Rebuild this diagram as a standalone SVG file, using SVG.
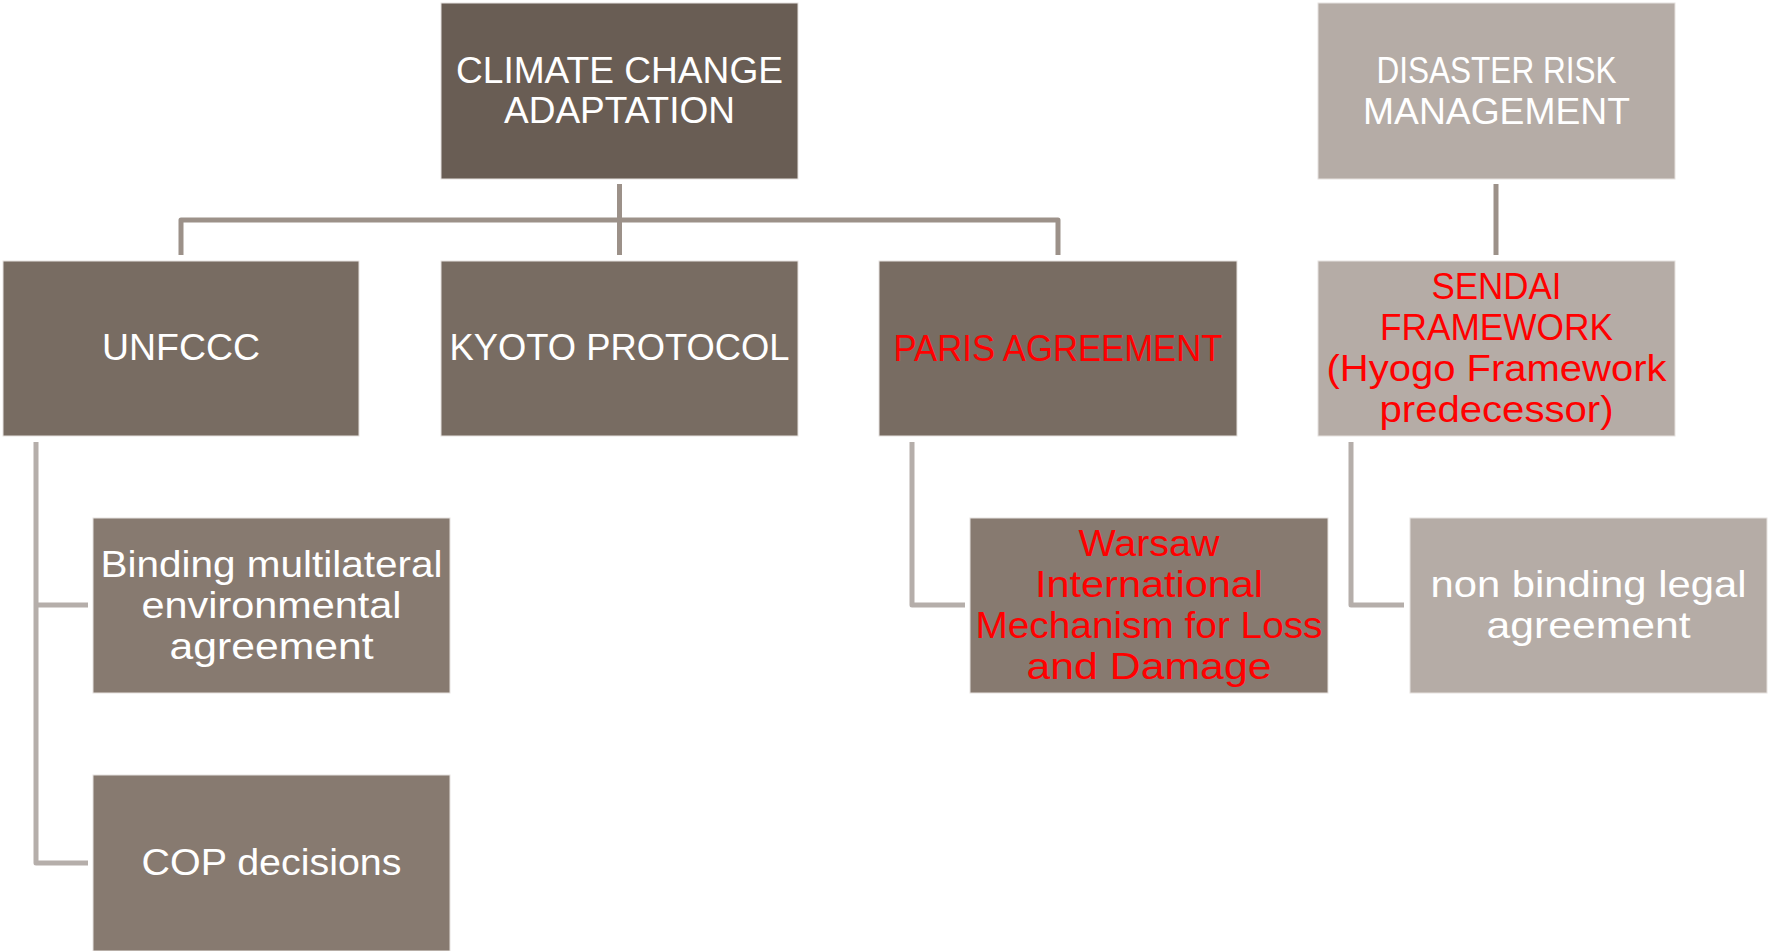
<svg xmlns="http://www.w3.org/2000/svg" width="1768" height="951" viewBox="0 0 1768 951">
<style>
.box{stroke:#e6e2df;stroke-width:1}
.c1{fill:#695d54}
.c2{fill:#786c62}
.c3{fill:#877a70}
.c4{fill:#b5aca6}
text{font-family:"Liberation Sans",Arial,sans-serif;font-size:37px;text-anchor:middle;fill:#ffffff}
text.red{fill:#ff0000}
.conn{fill:none;stroke:#9c9189;stroke-width:5;stroke-linejoin:round}
.conn2{fill:none;stroke:#b5aeaa;stroke-width:5;stroke-linejoin:round}
</style>
<rect width="1768" height="951" fill="#ffffff"/>
<g id="connectors">
<path class="conn" d="M619.5,184V255"/>
<path class="conn" d="M181,255V220H1058V255"/>
<path class="conn" d="M1496,184V255"/>
<path class="conn2" d="M36,442V863H88M36,605H88"/>
<path class="conn2" d="M912,442V605H965"/>
<path class="conn2" d="M1351,442V605H1404"/>
</g>
<g id="cca">
<rect class="box c1" x="441" y="3" width="357" height="176"/>
<text x="619.5" y="83" textLength="327" lengthAdjust="spacingAndGlyphs">CLIMATE CHANGE</text>
<text x="619.5" y="123" textLength="231" lengthAdjust="spacingAndGlyphs">ADAPTATION</text>
</g>
<g id="drm">
<rect class="box c4" x="1318" y="3" width="357" height="176"/>
<text x="1496.5" y="83" textLength="240" lengthAdjust="spacingAndGlyphs">DISASTER RISK</text>
<text x="1496.5" y="124" textLength="267" lengthAdjust="spacingAndGlyphs">MANAGEMENT</text>
</g>
<g id="unfccc">
<rect class="box c2" x="3" y="261" width="356" height="175"/>
<text x="181" y="360" textLength="158" lengthAdjust="spacingAndGlyphs">UNFCCC</text>
</g>
<g id="kyoto">
<rect class="box c2" x="441" y="261" width="357" height="175"/>
<text x="619.5" y="360" textLength="340" lengthAdjust="spacingAndGlyphs">KYOTO PROTOCOL</text>
</g>
<g id="paris">
<rect class="box c2" x="879" y="261" width="358" height="175"/>
<text class="red" x="1058" y="361" textLength="329" lengthAdjust="spacingAndGlyphs">PARIS AGREEMENT</text>
</g>
<g id="sendai">
<rect class="box c4" x="1318" y="261" width="357" height="175"/>
<text class="red" x="1496.5" y="299" textLength="130" lengthAdjust="spacingAndGlyphs">SENDAI</text>
<text class="red" x="1496.5" y="340" textLength="233" lengthAdjust="spacingAndGlyphs">FRAMEWORK</text>
<text class="red" x="1496.5" y="381" textLength="340" lengthAdjust="spacingAndGlyphs">(Hyogo Framework</text>
<text class="red" x="1496.5" y="422" textLength="234" lengthAdjust="spacingAndGlyphs">predecessor)</text>
</g>
<g id="binding">
<rect class="box c3" x="93" y="518" width="357" height="175"/>
<text x="271.5" y="577" textLength="342" lengthAdjust="spacingAndGlyphs">Binding multilateral</text>
<text x="271.5" y="618" textLength="260" lengthAdjust="spacingAndGlyphs">environmental</text>
<text x="271.5" y="659" textLength="204" lengthAdjust="spacingAndGlyphs">agreement</text>
</g>
<g id="cop">
<rect class="box c3" x="93" y="775" width="357" height="176"/>
<text x="271.5" y="875" textLength="260" lengthAdjust="spacingAndGlyphs">COP decisions</text>
</g>
<g id="warsaw">
<rect class="box c3" x="970" y="518" width="358" height="175"/>
<text class="red" x="1149" y="556" textLength="141" lengthAdjust="spacingAndGlyphs">Warsaw</text>
<text class="red" x="1149" y="597" textLength="228" lengthAdjust="spacingAndGlyphs">International</text>
<text class="red" x="1149" y="638" textLength="347" lengthAdjust="spacingAndGlyphs">Mechanism for Loss</text>
<text class="red" x="1149" y="679" textLength="245" lengthAdjust="spacingAndGlyphs">and Damage</text>
</g>
<g id="nonbinding">
<rect class="box c4" x="1410" y="518" width="357" height="175"/>
<text x="1588.5" y="597" textLength="316" lengthAdjust="spacingAndGlyphs">non binding legal</text>
<text x="1588.5" y="638" textLength="204" lengthAdjust="spacingAndGlyphs">agreement</text>
</g>
</svg>
